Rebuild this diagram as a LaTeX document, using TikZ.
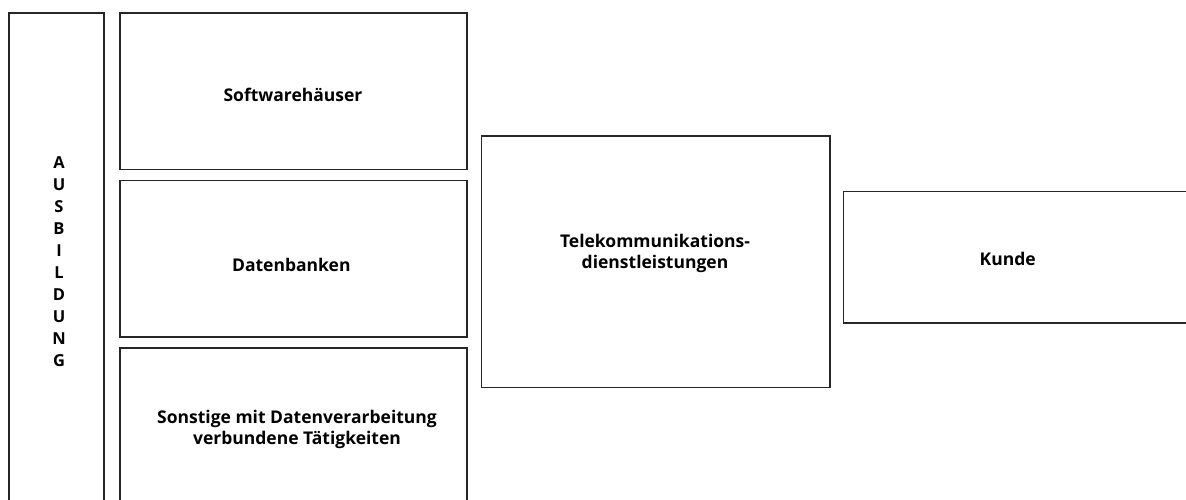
\documentclass[tikz,border=0pt]{standalone}
\usepackage{fontspec}
\setmainfont{Open Sans}
\begin{document}
\begin{tikzpicture}[x=1pt, y=-1pt,
    box/.style={draw=black!85, line width=1.3pt, inner sep=0pt},
    lbl/.style={font=\bfseries\fontsize{17.5}{20.5}\selectfont, align=center, inner sep=0pt}]
    \useasboundingbox (0,0) rectangle (1186,500);
    % boxes
    \node[box, minimum width=95pt,  minimum height=507pt]   (ausb)  at (56.5, 266.5)  {};
    \node[box, minimum width=347pt, minimum height=156.5pt] (soft)  at (293.5, 91.25) {};
    \node[box, minimum width=347pt, minimum height=156.5pt] (daten) at (293.5, 258.75) {};
    \node[box, minimum width=347pt, minimum height=172pt]   (sonst) at (293.5, 434)   {};
    \node[box, minimum width=348.5pt, minimum height=251.5pt] (tele) at (655.75, 261.75) {};
    \node[box, minimum width=356.5pt, minimum height=131.5pt] (kunde) at (1021.75, 257.25) {};
    % labels (base = last line)
    \node[lbl, anchor=base, font=\bfseries\fontsize{16.5}{22}\selectfont] (ausbtxt) at (59, 366)
        {A\\U\\S\\B\\I\\L\\D\\U\\N\\G};
    \node[lbl, anchor=base] (softtxt)  at (293, 101.7) {Softwarehäuser};
    \node[lbl, anchor=base] (datentxt) at (291.3, 271) {Datenbanken};
    \node[lbl, anchor=base] (sonsttxt) at (297, 444) {Sonstige mit Datenverarbeitung\\verbundene Tätigkeiten};
    \node[lbl, anchor=base] (teletxt)  at (655, 268) {Telekommunikations-\\dienstleistungen};
    \node[lbl, anchor=base] (kundetxt) at (1007.7, 265.7) {Kunde};
\end{tikzpicture}
\end{document}
